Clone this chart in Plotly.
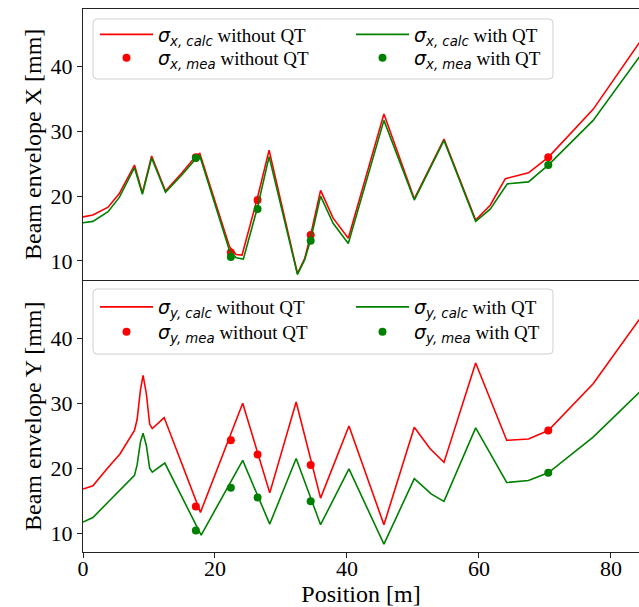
import plotly.graph_objects as go

# ---------------- data ----------------
# Top panel: horizontal beam envelope (sigma_x)
sx_pos_noqt = [0, 1.5, 3.8, 5.5, 7.8, 9.0, 10.4, 12.5, 15.0, 17.2, 17.7, 20.2, 22.2, 23.2, 24.1,
               26.4, 28.2, 32.5, 33.6, 34.5, 36.0, 37.9, 40.2, 45.6, 50.2, 54.7, 59.5, 61.7,
               64.0, 67.5, 70.5, 77.3, 84.3]
sx_calc_noqt = [16.8, 17.1, 18.3, 20.4, 24.8, 20.5, 26.2, 20.8, 23.6, 26.3, 26.6, 18.6, 12.2, 11.0, 10.9,
                19.6, 27.1, 8.05, 10.4, 14.0, 20.9, 16.6, 13.5, 32.7, 19.6, 28.8, 16.3, 18.6,
                22.7, 23.6, 26.0, 33.4, 43.7]
sx_pos_qt = [0, 1.5, 3.8, 5.5, 7.8, 9.0, 10.4, 12.5, 15.0, 17.2, 17.7, 20.2, 22.2, 23.2, 24.3,
             26.4, 28.2, 32.5, 33.6, 34.5, 36.0, 37.9, 40.2, 45.6, 50.2, 54.7, 59.5, 61.7,
             64.3, 67.5, 70.5, 77.3, 84.3]
sx_calc_qt = [15.9, 16.1, 17.6, 19.8, 24.4, 20.3, 25.9, 20.6, 23.3, 25.9, 26.2, 18.0, 11.6, 10.5, 10.3,
              18.1, 26.1, 7.9, 10.2, 13.3, 20.0, 15.8, 12.7, 31.7, 19.4, 28.6, 16.1, 18.0,
              21.9, 22.2, 24.8, 31.7, 41.5]
meas_pos = [17.1, 22.4, 26.45, 34.5, 70.5]
sx_mea_noqt = [26.0, 11.3, 19.4, 14.0, 26.0]
sx_mea_qt = [25.9, 10.6, 18.0, 13.1, 24.8]

# Bottom panel: vertical beam envelope (sigma_y)
sy_pos_noqt = [0, 1.5, 3.8, 5.6, 7.8, 8.2, 8.7, 9.1, 9.6, 10.1, 10.5, 12.3, 17.8, 24.2, 28.3,
               32.3, 36.0, 40.3, 45.6, 50.2, 52.6, 54.7, 59.5, 64.2, 67.5, 70.5, 77.3, 84.3]
sy_calc_noqt = [16.8, 17.3, 20.1, 22.2, 25.8, 27.5, 32.0, 34.3, 31.5, 26.8, 26.1, 27.8, 13.2, 30.0, 16.2,
                30.2, 15.4, 26.5, 11.3, 26.3, 23.0, 20.9, 36.2, 24.3, 24.5, 25.8, 33.0, 42.9]
sy_pos_qt = [0, 1.5, 4.0, 6.0, 7.8, 8.2, 8.7, 9.1, 9.6, 10.1, 10.5, 12.4, 17.9, 24.2, 28.3,
             32.3, 36.0, 40.3, 45.6, 50.2, 52.8, 54.7, 59.5, 64.2, 67.5, 70.5, 77.3, 84.3]
sy_calc_qt = [11.7, 12.4, 15.0, 17.0, 18.9, 20.5, 24.0, 25.4, 23.5, 20.0, 19.4, 20.8, 9.7, 21.2, 11.4,
              21.5, 11.3, 19.9, 8.3, 18.4, 16.0, 14.9, 26.2, 17.8, 18.1, 19.3, 24.8, 31.7]
sy_mea_noqt = [14.1, 24.3, 22.1, 20.5, 25.8]
sy_mea_qt = [10.4, 17.0, 15.5, 14.9, 19.3]

x_ticks = [0, 20, 40, 60, 80]
y_ticks = [10, 20, 30, 40]

RED = "#ff0000"
GREEN = "#008000"
SERIF = "Liberation Serif"


def sig(axis, kind):
    return ('<span style="font-family:DejaVu Sans"><i>σ</i><sub><i>%s, %s</i></sub></span>'
            % (axis, kind))


W, H = 639, 607
ML, MR, MT, MB = 83, 0, 9, 55
PW, PH = W - ML - MR, H - MT - MB


def px_x(p):
    return (p - ML) / PW


def px_y(p):
    return (H - MB - p) / PH


fig = go.Figure()

# (x, y, style, colour, name, axes, legend-id)
series = [
    (sx_pos_noqt, sx_calc_noqt, "line", RED, sig("x", "calc") + " without QT", "x", "y", "legend"),
    (meas_pos, sx_mea_noqt, "dot", RED, sig("x", "mea") + " without QT", "x", "y", "legend2"),
    (sx_pos_qt, sx_calc_qt, "line", GREEN, sig("x", "calc") + " with QT", "x", "y", "legend3"),
    (meas_pos, sx_mea_qt, "dot", GREEN, sig("x", "mea") + " with QT", "x", "y", "legend4"),
    (sy_pos_noqt, sy_calc_noqt, "line", RED, sig("y", "calc") + " without QT", "x2", "y2", "legend5"),
    (meas_pos, sy_mea_noqt, "dot", RED, sig("y", "mea") + " without QT", "x2", "y2", "legend6"),
    (sy_pos_qt, sy_calc_qt, "line", GREEN, sig("y", "calc") + " with QT", "x2", "y2", "legend7"),
    (meas_pos, sy_mea_qt, "dot", GREEN, sig("y", "mea") + " with QT", "x2", "y2", "legend8"),
]
for xs, ys, style, col, name, xa, ya, leg in series:
    if style == "line":
        fig.add_trace(go.Scatter(x=xs, y=ys, mode="lines", line=dict(color=col, width=1.6),
                                 name=name, legend=leg, showlegend=True, xaxis=xa, yaxis=ya))
    else:
        fig.add_trace(go.Scatter(x=xs, y=ys, mode="markers", marker=dict(color=col, size=8),
                                 name=name, legend=leg, showlegend=True, xaxis=xa, yaxis=ya))

axis_common = dict(showgrid=False, zeroline=False, showline=True, linecolor="#222222",
                   linewidth=1.1, ticks="outside", ticklen=5, tickwidth=1.1,
                   tickcolor="#222222", tickfont=dict(family=SERIF, size=22, color="black"))

XR = [0, 84.25]
YR = [7.1, 48.9]

fig.update_layout(
    width=W, height=H,
    showlegend=True,
    margin=dict(l=ML, r=MR, t=MT, b=MB),
    paper_bgcolor="white", plot_bgcolor="white",
    font=dict(family=SERIF, color="black"),
    xaxis=dict(domain=[0, 1], anchor="y", range=XR, mirror=True, showticklabels=False,
               ticks="", showgrid=False, zeroline=False, showline=True,
               linecolor="#222222", linewidth=1.1),
    yaxis=dict(domain=[0.5015, 1], anchor="x", range=YR, tickvals=y_ticks,
               title=dict(text="Beam envelope X [mm]", font=dict(family=SERIF, size=24),
                          standoff=2),
               **axis_common),
    xaxis2=dict(domain=[0, 1], anchor="y2", range=XR, mirror=True, tickvals=x_ticks,
                ticklabelstandoff=-8,
                title=dict(text="Position [m]", font=dict(family=SERIF, size=24), standoff=7),
                **axis_common),
    yaxis2=dict(domain=[0, 0.5], anchor="x2", range=YR, tickvals=y_ticks,
                title=dict(text="Beam envelope Y [mm]", font=dict(family=SERIF, size=24),
                           standoff=2),
                **axis_common),
)

leg_common = dict(bgcolor="rgba(0,0,0,0)", borderwidth=0, orientation="v",
                  xanchor="left", yanchor="middle", itemwidth=53,
                  font=dict(family=SERIF, size=19, color="black"))
col1, col2 = 95, 351
row_top = [34.5, 58.0]
row_bot = [307.0, 332.0]
fig.update_layout(
    legend=dict(x=px_x(col1), y=px_y(row_top[0]), **leg_common),
    legend2=dict(x=px_x(col1), y=px_y(row_top[1]), **leg_common),
    legend3=dict(x=px_x(col2), y=px_y(row_top[0]), **leg_common),
    legend4=dict(x=px_x(col2), y=px_y(row_top[1]), **leg_common),
    legend5=dict(x=px_x(col1), y=px_y(row_bot[0]), **leg_common),
    legend6=dict(x=px_x(col1), y=px_y(row_bot[1]), **leg_common),
    legend7=dict(x=px_x(col2), y=px_y(row_bot[0]), **leg_common),
    legend8=dict(x=px_x(col2), y=px_y(row_bot[1]), **leg_common),
)


def rounded_box(x0p, y0p, x1p, y1p, r=4):
    x0, x1 = px_x(x0p), px_x(x1p)
    y0, y1 = px_y(y0p), px_y(y1p)
    rx, ry = r / PW, r / PH
    return (f"M{x0 + rx},{y0} L{x1 - rx},{y0} Q{x1},{y0} {x1},{y0 - ry} "
            f"L{x1},{y1 + ry} Q{x1},{y1} {x1 - rx},{y1} L{x0 + rx},{y1} "
            f"Q{x0},{y1} {x0},{y1 + ry} L{x0},{y0 - ry} Q{x0},{y0} {x0 + rx},{y0} Z")


for (a, b, c, d) in [(93, 19, 553, 79), (93, 289, 553, 354)]:
    fig.add_shape(type="path", xref="paper", yref="paper", path=rounded_box(a, b, c, d),
                  line=dict(color="#d0d0d0", width=1), fillcolor="rgba(255,255,255,0.8)",
                  layer="above")

fig.write_html("out.html")
